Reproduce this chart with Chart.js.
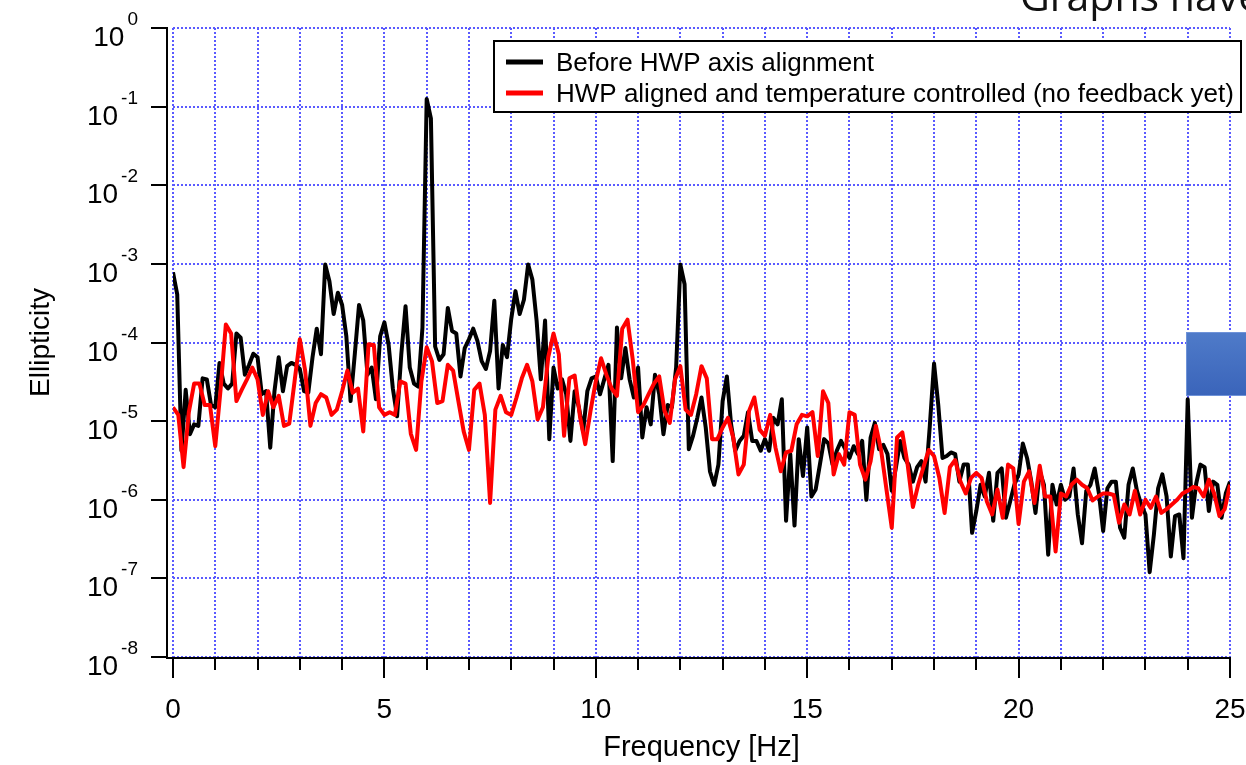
<!DOCTYPE html>
<html>
<head>
<meta charset="utf-8">
<title>Ellipticity spectrum</title>
<script src="https://cdn.jsdelivr.net/npm/chart.js@4/dist/chart.umd.min.js"></script>
<style>
  html, body { margin: 0; padding: 0; background: #fff; overflow: hidden; }
  canvas { display: block; }
</style>
</head>
<body>
<canvas id="chart" width="1246" height="765"></canvas>
<script>
// frequency bins [Hz] and ellipticity
const blackFreq = [
  0,0.1,0.2,0.3,0.4,0.5,0.6,0.7,0.8,0.9,
  1,1.1,1.2,1.3,1.4,1.5,1.6,1.7,1.8,1.9,
  2,2.1,2.2,2.3,2.4,2.5,2.6,2.7,2.8,2.9,
  3,3.1,3.2,3.3,3.4,3.5,3.6,3.7,3.8,3.9,
  4,4.1,4.2,4.3,4.4,4.5,4.6,4.7,4.8,4.9,
  5,5.1,5.2,5.3,5.4,5.5,5.6,5.7,5.8,5.9,
  6,6.1,6.2,6.3,6.4,6.5,6.6,6.7,6.8,6.9,
  7,7.1,7.2,7.3,7.4,7.5,7.6,7.7,7.8,7.9,
  8,8.1,8.2,8.3,8.4,8.5,8.6,8.7,8.8,8.9,
  9,9.1,9.2,9.3,9.4,9.5,9.6,9.7,9.8,9.9,
  10,10.1,10.2,10.3,10.4,10.5,10.6,10.7,10.8,10.9,
  11,11.1,11.2,11.3,11.4,11.5,11.6,11.7,11.8,11.9,
  12,12.1,12.2,12.3,12.4,12.5,12.6,12.7,12.8,12.9,
  13,13.1,13.2,13.3,13.4,13.5,13.6,13.7,13.8,13.9,
  14,14.1,14.2,14.3,14.4,14.5,14.6,14.7,14.8,14.9,
  15,15.1,15.2,15.3,15.4,15.5,15.6,15.7,15.8,15.9,
  16,16.1,16.2,16.3,16.4,16.5,16.6,16.7,16.8,16.9,
  17,17.1,17.2,17.3,17.4,17.5,17.6,17.7,17.8,17.9,
  18,18.1,18.2,18.3,18.4,18.5,18.6,18.7,18.8,18.9,
  19,19.1,19.2,19.3,19.4,19.5,19.6,19.7,19.8,19.9,
  20,20.1,20.2,20.3,20.4,20.5,20.6,20.7,20.8,20.9,
  21,21.1,21.2,21.3,21.4,21.5,21.6,21.7,21.8,21.9,
  22,22.1,22.2,22.3,22.4,22.5,22.6,22.7,22.8,22.9,
  23,23.1,23.2,23.3,23.4,23.5,23.6,23.7,23.8,23.9,
  24,24.1,24.2,24.3,24.4,24.5,24.6,24.7,24.8,24.9,
  25
];
const blackValues = [
  7.8e-4,4.1e-4,4.2e-6,2.5e-5,6.8e-6,9.1e-6,8.7e-6,3.5e-5,3.4e-5,1.6e-5,
  1.5e-5,5.5e-5,3.0e-5,2.6e-5,3.0e-5,1.3e-4,1.15e-4,3.9e-5,5.2e-5,7.2e-5,
  6.5e-5,2.2e-5,2.4e-5,4.6e-6,2.4e-5,6.5e-5,2.4e-5,5.0e-5,5.5e-5,5.2e-5,
  4.6e-5,2.4e-5,2.3e-5,6.5e-5,1.5e-4,7.1e-5,9.8e-4,6.0e-4,2.3e-4,4.3e-4,
  3.0e-4,1.2e-4,1.8e-5,7.1e-5,3.0e-4,1.9e-4,3.9e-5,4.8e-5,1.9e-5,1.2e-4,
  1.8e-4,9.3e-5,2.6e-5,1.15e-5,7.1e-5,2.9e-4,4.8e-5,3.0e-5,2.75e-5,1.55e-4,
  1.25e-1,7.1e-2,8.9e-5,6.0e-5,7.1e-5,2.75e-4,1.4e-4,1.3e-4,3.7e-5,8.5e-5,
  1.1e-4,1.5e-4,1.05e-4,5.8e-5,4.6e-5,7.8e-5,3.4e-4,2.6e-5,9.3e-5,6.5e-5,
  2.0e-4,4.5e-4,2.3e-4,3.5e-4,9.8e-4,6.3e-4,1.9e-4,3.4e-5,1.9e-4,5.9e-6,
  4.8e-5,2.6e-5,3.4e-5,2.2e-5,5.6e-6,2.4e-5,1.5e-5,7.4e-6,2.4e-5,3.5e-5,
  3.7e-5,2.2e-5,3.4e-5,5.2e-5,3.1e-6,1.55e-4,3.5e-5,8.5e-5,3.4e-5,2.0e-5,
  4.8e-5,6.2e-6,1.5e-5,9.1e-6,3.9e-5,2.2e-5,6.8e-6,1.6e-5,1.5e-5,4.8e-5,
  9.8e-4,5.5e-4,4.4e-6,6.5e-6,1.1e-5,2.0e-5,8.3e-6,2.3e-6,1.55e-6,2.8e-6,
  1.8e-5,3.7e-5,9.1e-6,4.2e-6,5.6e-6,6.5e-6,1.3e-5,5.6e-6,5.6e-6,4.2e-6,
  5.9e-6,4.2e-6,1.1e-5,9.1e-6,1.9e-5,5.4e-7,3.8e-6,4.7e-7,5.9e-6,2.0e-6,
  8.3e-6,1.1e-6,1.35e-6,2.8e-6,5.9e-6,5.2e-6,2.8e-6,4.2e-6,5.6e-6,4.4e-6,
  3.4e-6,4.8e-6,3.8e-6,5.6e-6,1.0e-6,6.2e-6,9.5e-6,4.4e-6,5.0e-6,3.8e-6,
  1.3e-6,2.6e-6,5.6e-6,3.4e-6,2.8e-6,1.7e-6,2.6e-6,3.1e-6,1.7e-6,8.7e-6,
  5.4e-5,1.6e-5,3.4e-6,3.6e-6,4.0e-6,3.8e-6,1.7e-6,2.8e-6,2.8e-6,3.8e-7,
  7.2e-7,1.55e-6,1.1e-6,2.2e-6,5.4e-7,2.2e-6,2.5e-6,5.9e-7,9.5e-7,1.55e-6,
  2.1e-6,5.2e-6,3.4e-6,1.7e-6,6.8e-7,2.3e-6,1.55e-6,2.0e-7,1.55e-6,8.7e-7,
  1.55e-6,1.0e-6,1.1e-6,2.5e-6,6.5e-7,2.8e-7,1.3e-6,1.55e-6,2.5e-6,1.2e-6,
  4.0e-7,1.4e-6,1.7e-6,1.7e-6,4.4e-7,3.3e-7,1.55e-6,2.5e-6,1.3e-6,8.7e-7,
  6.5e-7,1.2e-7,3.6e-7,1.4e-6,2.1e-6,1.1e-6,1.9e-7,6.2e-7,6.5e-7,1.8e-7,
  1.9e-5,5.9e-7,1.6e-6,2.8e-6,2.6e-6,7.2e-7,1.7e-6,1.55e-6,5.9e-7,1.2e-6,
  1.7e-6
];
const redFreq = [
  0,0.125,0.25,0.375,0.5,0.625,0.75,0.875,
  1,1.125,1.25,1.375,1.5,1.625,1.75,1.875,
  2,2.125,2.25,2.375,2.5,2.625,2.75,2.875,
  3,3.125,3.25,3.375,3.5,3.625,3.75,3.875,
  4,4.125,4.25,4.375,4.5,4.625,4.75,4.875,
  5,5.125,5.25,5.375,5.5,5.625,5.75,5.875,
  6,6.125,6.25,6.375,6.5,6.625,6.75,6.875,
  7,7.125,7.25,7.375,7.5,7.625,7.75,7.875,
  8,8.125,8.25,8.375,8.5,8.625,8.75,8.875,
  9,9.125,9.25,9.375,9.5,9.625,9.75,9.875,
  10,10.125,10.25,10.375,10.5,10.625,10.75,10.875,
  11,11.125,11.25,11.375,11.5,11.625,11.75,11.875,
  12,12.125,12.25,12.375,12.5,12.625,12.75,12.875,
  13,13.125,13.25,13.375,13.5,13.625,13.75,13.875,
  14,14.125,14.25,14.375,14.5,14.625,14.75,14.875,
  15,15.125,15.25,15.375,15.5,15.625,15.75,15.875,
  16,16.125,16.25,16.375,16.5,16.625,16.75,16.875,
  17,17.125,17.25,17.375,17.5,17.625,17.75,17.875,
  18,18.125,18.25,18.375,18.5,18.625,18.75,18.875,
  19,19.125,19.25,19.375,19.5,19.625,19.75,19.875,
  20,20.125,20.25,20.375,20.5,20.625,20.75,20.875,
  21,21.125,21.25,21.375,21.5,21.625,21.75,21.875,
  22,22.125,22.25,22.375,22.5,22.625,22.75,22.875,
  23,23.125,23.25,23.375,23.5,23.625,23.75,23.875,
  24,24.125,24.25,24.375,24.5,24.625,24.75,24.875,
  25
];
const redValues = [
  1.5e-5,1.2e-5,2.6e-6,1.3e-5,3.0e-5,3.0e-5,1.6e-5,1.6e-5,
  4.8e-6,2.5e-5,1.7e-4,1.3e-4,1.8e-5,2.5e-5,3.4e-5,4.8e-5,
  3.4e-5,1.2e-5,2.4e-5,1.5e-5,2.1e-5,8.7e-6,9.3e-6,3.2e-5,
  1.1e-4,4.4e-5,8.7e-6,1.7e-5,2.2e-5,2.0e-5,1.2e-5,1.4e-5,
  2.4e-5,4.4e-5,2.3e-5,2.6e-5,7.4e-6,9.5e-5,9.3e-5,1.5e-5,
  1.2e-5,1.3e-5,1.2e-5,3.2e-5,3.0e-5,6.9e-6,4.3e-6,3.2e-5,
  8.7e-5,5.8e-5,1.7e-5,1.8e-5,5.2e-5,4.4e-5,1.8e-5,7.4e-6,
  4.3e-6,2.5e-5,3.0e-5,1.2e-5,9.1e-7,1.4e-5,2.1e-5,1.3e-5,
  1.2e-5,2.0e-5,3.5e-5,5.2e-5,3.2e-5,1.05e-5,1.5e-5,6.5e-5,
  1.3e-4,7.1e-5,6.5e-6,3.5e-5,3.8e-5,1.15e-5,5.1e-6,1.35e-5,
  3.2e-5,6.3e-5,3.9e-5,2.6e-5,2.1e-5,1.5e-4,1.95e-4,6.0e-5,
  1.3e-5,1.6e-5,2.2e-5,3.0e-5,3.7e-5,1.35e-5,9.5e-6,3.4e-5,
  5.0e-5,1.4e-5,1.2e-5,2.2e-5,5.0e-5,3.5e-5,5.9e-6,5.9e-6,
  8.3e-6,1.1e-5,6.2e-6,2.1e-6,2.8e-6,1.35e-5,2.0e-5,7.8e-6,
  6.5e-6,1.2e-5,4.6e-6,2.3e-6,4.0e-6,4.2e-6,9.1e-6,1.2e-5,
  1.15e-5,1.3e-5,3.6e-6,2.4e-5,1.7e-5,2.1e-6,3.8e-6,2.8e-6,
  1.3e-5,1.2e-5,2.8e-6,1.8e-6,3.1e-6,8.7e-6,4.2e-6,1.35e-6,
  4.4e-7,6.2e-6,7.2e-6,2.8e-6,8.1e-7,1.55e-6,2.6e-6,4.3e-6,
  3.6e-6,1.9e-6,6.8e-7,2.6e-6,3.2e-6,1.7e-6,1.2e-6,1.9e-6,
  2.2e-6,1.9e-6,9.5e-7,6.5e-7,1.35e-6,5.9e-7,2.8e-6,2.5e-6,
  4.9e-7,1.7e-6,2.3e-6,9.1e-7,2.7e-6,1.1e-6,1.1e-6,2.2e-7,
  1.2e-6,1.1e-6,1.55e-6,1.8e-6,1.55e-6,1.4e-6,9.8e-7,1.1e-6,
  1.2e-6,1.2e-6,1.15e-6,5.1e-7,8.7e-7,6.5e-7,1.3e-6,6.5e-7,
  1.0e-6,7.9e-7,1.1e-6,6.8e-7,7.6e-7,8.7e-7,1.0e-6,1.2e-6,
  1.3e-6,1.45e-6,1.4e-6,1.1e-6,1.8e-6,1.2e-6,6.2e-7,7.6e-7,
  1.55e-6
];
const seriesLabels = [
  'Before HWP axis alignment',
  'HWP aligned and temperature controlled (no feedback yet)'
];
const xGridValues = [0,1,2,3,4,5,6,7,8,9,10,11,12,13,14,15,16,17,18,19,20,21,22,23,24,25];
const xTickLabels = ['0', '5', '10', '15', '20', '25'];
const yTickValues = [1, 1e-1, 1e-2, 1e-3, 1e-4, 1e-5, 1e-6, 1e-7, 1e-8];
const yTickExponents = ['0', '-1', '-2', '-3', '-4', '-5', '-6', '-7', '-8'];
const xTitle = 'Frequency [Hz]';
const yTitle = 'Ellipticity';
const slideTitle = 'Graphs have';

const FONT = '"Liberation Sans", Arial, sans-serif';
const GRID_COLOR = '#5a5aff';

function toPoints(xs, ys) {
  return xs.map((f, i) => ({ x: f, y: ys[i] }));
}

function line(ctx, x1, y1, x2, y2) {
  ctx.beginPath();
  ctx.moveTo(x1, y1);
  ctx.lineTo(x2, y2);
  ctx.stroke();
}

// Igor-style frame: offset axes, tick marks, 10^n labels, boxed legend, slide bits
const framePlugin = {
  id: 'igorFrame',
  afterDraw(chart) {
    const { ctx, chartArea: area, scales: { x, y } } = chart;
    const axisX = area.left - 6;
    const axisY = area.bottom + 1;
    ctx.save();
    ctx.strokeStyle = '#000';
    ctx.fillStyle = '#000';
    ctx.lineWidth = 2;

    line(ctx, axisX, area.top - 1, axisX, axisY + 1);
    line(ctx, axisX - 1, axisY, area.right + 1, axisY);

    ctx.textAlign = 'left';
    ctx.textBaseline = 'alphabetic';
    yTickValues.forEach((v, i) => {
      const py = Math.round(y.getPixelForValue(v));
      line(ctx, axisX - 16, py, axisX, py);
      const exp = yTickExponents[i];
      ctx.font = '19px ' + FONT;
      const ew = ctx.measureText(exp).width;
      ctx.font = '28px ' + FONT;
      const bw = ctx.measureText('10').width;
      const right = axisX - 29;
      ctx.fillText('10', right - ew - 3 - bw, py + 18);
      ctx.font = '19px ' + FONT;
      ctx.fillText(exp, right - ew, py - 3);
    });

    xGridValues.forEach(v => {
      const px = Math.round(x.getPixelForValue(v));
      const major = xTickLabels.includes(String(v));
      line(ctx, px, axisY, px, axisY + (major ? 20 : 12));
    });
    ctx.font = '28px ' + FONT;
    ctx.textAlign = 'center';
    xTickLabels.forEach(t => {
      ctx.fillText(t, x.getPixelForValue(Number(t)), axisY + 60);
    });

    // axis titles
    ctx.font = '29px ' + FONT;
    ctx.fillText(xTitle, (area.left + area.right) / 2, axisY + 98);
    ctx.save();
    ctx.font = '28px ' + FONT;
    ctx.translate(49, (area.top + area.bottom) / 2);
    ctx.rotate(-Math.PI / 2);
    ctx.fillText(yTitle, 0, 0);
    ctx.restore();

    // legend box
    const box = { left: 494, top: 41, width: 747, height: 71 };
    ctx.fillStyle = '#fff';
    ctx.fillRect(box.left, box.top, box.width, box.height);
    ctx.strokeStyle = '#000';
    ctx.lineWidth = 2;
    ctx.strokeRect(box.left, box.top, box.width, box.height);
    ctx.textAlign = 'left';
    ctx.font = '26px ' + FONT;
    chart.data.datasets.forEach((ds, i) => {
      const rowY = box.top + 21 + i * 31;
      ctx.strokeStyle = ds.borderColor;
      ctx.lineWidth = 5;
      line(ctx, box.left + 12, rowY, box.left + 49, rowY);
      ctx.fillStyle = '#000';
      ctx.fillText(ds.label, box.left + 62, rowY + 9);
    });

    // slide title, cut off at the top right
    ctx.fillStyle = '#111';
    ctx.font = '41px "Open Sans", sans-serif';
    ctx.fillText(slideTitle, 1020, 11);

    // blue slide shape overlapping the right edge
    const grad = ctx.createLinearGradient(0, 332, 0, 396);
    grad.addColorStop(0, '#4f7bc9');
    grad.addColorStop(1, '#3a64ba');
    ctx.fillStyle = grad;
    ctx.fillRect(1186, 332, 62, 64);
    ctx.strokeStyle = '#6f93d8';
    ctx.lineWidth = 1;
    ctx.strokeRect(1186.5, 332.5, 62, 63);
    ctx.restore();
  }
};

const gridOpts = { color: GRID_COLOR, lineWidth: 2, drawTicks: false };
const borderOpts = { display: false, dash: [2, 2] };

new Chart(document.getElementById('chart').getContext('2d'), {
  type: 'line',
  data: {
    datasets: [
      {
        label: seriesLabels[0],
        data: toPoints(blackFreq, blackValues),
        borderColor: '#000000',
        borderWidth: 4,
        pointRadius: 0,
        tension: 0,
        borderJoinStyle: 'round',
        order: 2
      },
      {
        label: seriesLabels[1],
        data: toPoints(redFreq, redValues),
        borderColor: '#ff0000',
        borderWidth: 4,
        pointRadius: 0,
        tension: 0,
        borderJoinStyle: 'round',
        order: 1
      }
    ]
  },
  options: {
    responsive: false,
    devicePixelRatio: 1,
    animation: false,
    layout: { padding: { left: 173, right: 16, top: 28, bottom: 108 } },
    plugins: {
      legend: { display: false },
      tooltip: { enabled: false }
    },
    scales: {
      x: {
        type: 'linear',
        min: 0,
        max: 25,
        grid: gridOpts,
        border: borderOpts,
        ticks: { display: false, autoSkip: false },
        afterBuildTicks: s => { s.ticks = xGridValues.map(v => ({ value: v })); }
      },
      y: {
        type: 'logarithmic',
        min: 1e-8,
        max: 1,
        grid: gridOpts,
        border: borderOpts,
        ticks: { display: false, autoSkip: false },
        afterBuildTicks: s => { s.ticks = yTickValues.map(v => ({ value: v })); }
      }
    }
  },
  plugins: [framePlugin]
});
</script>
</body>
</html>
